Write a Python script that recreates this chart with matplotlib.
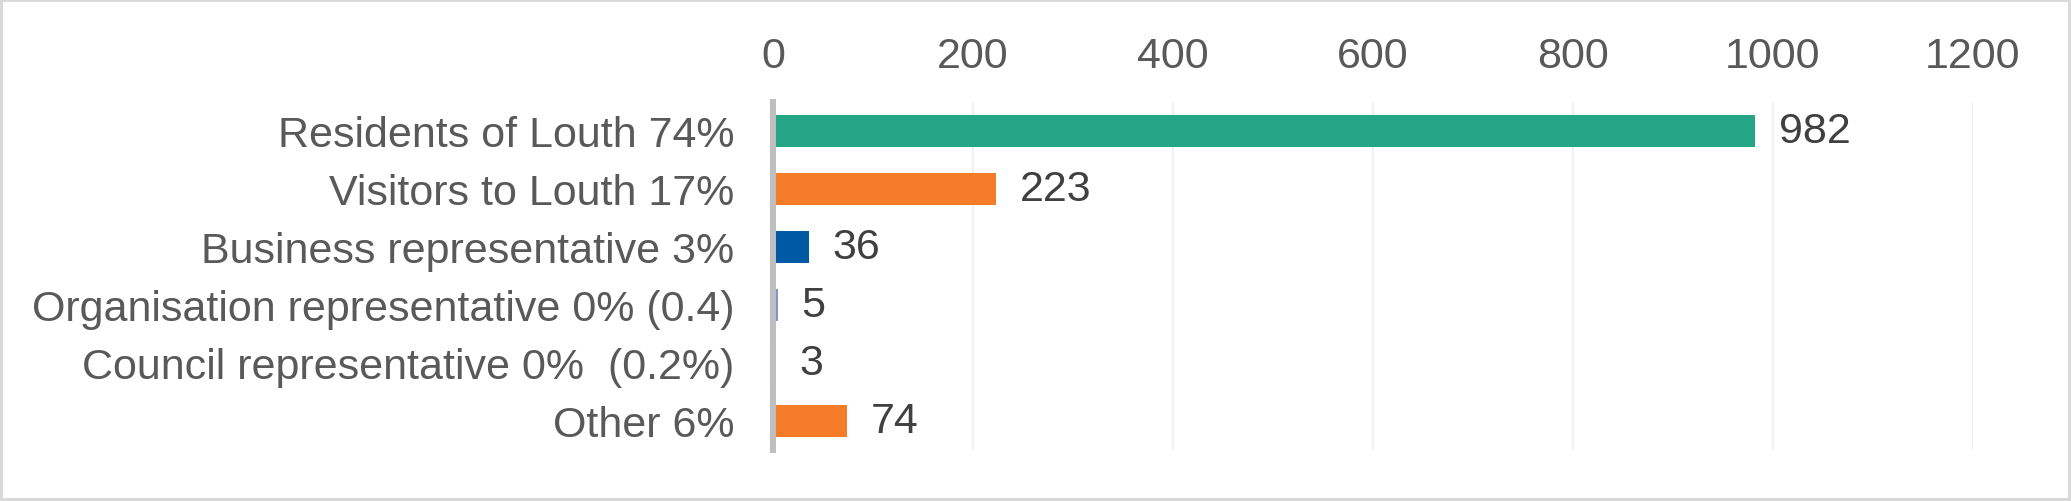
import matplotlib.pyplot as plt
from matplotlib.patches import Rectangle

# Chart data
categories = [
    "Residents of Louth 74%",
    "Visitors to Louth 17%",
    "Business representative 3%",
    "Organisation representative 0% (0.4)",
    "Council representative 0%  (0.2%)",
    "Other 6%",
]
counts = [982, 223, 36, 5, 3, 74]
bar_colors = ["#26A586", "#F47B27", "#0059A3", "#8B8FD1", "#A5A5A5", "#F47B27"]
x_ticks = [0, 200, 400, 600, 800, 1000, 1200]

plt.rcParams['font.family'] = ['Liberation Sans', 'DejaVu Sans']

fig = plt.figure(figsize=(20.71, 5.02), dpi=100)
ax = fig.add_axes([773 / 2071, 51 / 502, 1200 / 2071, 348 / 502])

y_pos = list(range(len(categories)))
ax.barh(y_pos, counts, height=0.54, color=bar_colors, zorder=2)

# Value labels to the right of each bar
for y, v in zip(y_pos, counts):
    ax.annotate(str(v), xy=(v, y), xytext=(17, 0), textcoords="offset points",
                ha="left", va="center", fontsize=31, color="#404040")

ax.set_xlim(0, 1200)
ax.set_ylim(len(categories) - 0.5, -0.5)
ax.set_xticks(x_ticks)
ax.set_yticks(y_pos)
ax.set_yticklabels(categories)

ax.xaxis.tick_top()
ax.tick_params(axis="x", length=0, pad=19, labelsize=31, labelcolor="#595959")
ax.tick_params(axis="y", length=0, pad=28, labelsize=31, labelcolor="#595959")

ax.grid(axis="x", color="#F0F0F0", linewidth=1.6, zorder=0)
ax.set_axisbelow(True)
for side in ["top", "right", "bottom"]:
    ax.spines[side].set_visible(False)
ax.spines["left"].set_color("#BFBFBF")
ax.spines["left"].set_linewidth(4.3)
ax.spines["left"].set_zorder(3)

# Light grey frame round the whole chart
fig.patches.append(Rectangle((0, 0), 1, 1, transform=fig.transFigure, fill=False,
                             edgecolor="#D9D9D9", linewidth=4.3))

fig.savefig("out.png", dpi=100)
